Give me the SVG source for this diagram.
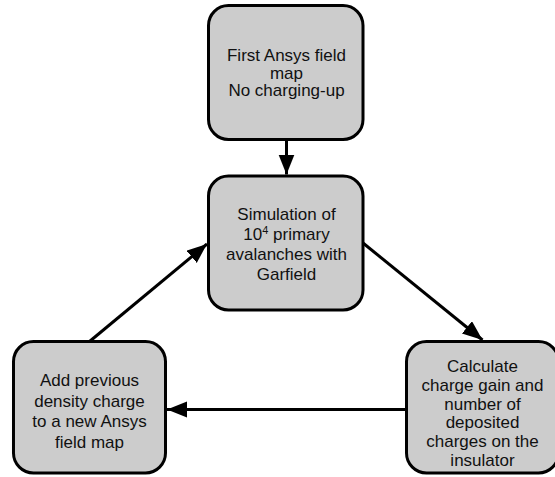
<svg xmlns="http://www.w3.org/2000/svg" width="555" height="477" viewBox="0 0 555 477">
<style>
.box{fill:#cccccc;stroke:#000;stroke-width:3}
.t{font-family:"Liberation Sans",Arial,sans-serif;font-size:17px;fill:#111;text-anchor:middle}
.c{stroke:#000;stroke-width:3;fill:none}
</style>
<defs>
<marker id="ah" markerUnits="userSpaceOnUse" markerWidth="22" markerHeight="18" refX="20" refY="8" orient="auto">
<path d="M0,0 L20,8 L0,16 z" fill="#000"/>
</marker>
</defs>
<rect width="555" height="477" fill="#fff"/>
<g id="connectors">
<line class="c" x1="286.5" y1="141" x2="286.5" y2="174.5" marker-end="url(#ah)"/>
<line class="c" x1="363" y1="243" x2="482.5" y2="340" marker-end="url(#ah)"/>
<line class="c" x1="406.5" y1="409.5" x2="167" y2="409.5" marker-end="url(#ah)"/>
<line class="c" x1="89.5" y1="341.5" x2="207" y2="244" marker-end="url(#ah)"/>
</g>
<g id="node-first">
<rect class="box" x="208.5" y="5.5" width="154.5" height="134" rx="20"/>
<text class="t" x="286.5" y="61">First Ansys field</text>
<text class="t" x="286.5" y="78.5">map</text>
<text class="t" x="286.5" y="96">No charging-up</text>
</g>
<g id="node-sim">
<rect class="box" x="208.5" y="176" width="154.5" height="134" rx="20"/>
<text class="t" x="286.5" y="220">Simulation of</text>
<text class="t" x="286.5" y="240">10<tspan font-size="11" dy="-6">4</tspan><tspan dy="6"> primary</tspan></text>
<text class="t" x="286.5" y="260">avalanches with</text>
<text class="t" x="286.5" y="280">Garfield</text>
</g>
<g id="node-calc">
<rect class="box" x="406.5" y="341.5" width="152" height="131.5" rx="20"/>
<text class="t" x="482.5" y="372">Calculate</text>
<text class="t" x="482.5" y="390.8">charge gain and</text>
<text class="t" x="482.5" y="409.6">number of</text>
<text class="t" x="482.5" y="428.4">deposited</text>
<text class="t" x="482.5" y="447.2">charges on the</text>
<text class="t" x="482.5" y="466">insulator</text>
</g>
<g id="node-add">
<rect class="box" x="13.5" y="341.5" width="152" height="131.5" rx="20"/>
<text class="t" x="89.5" y="386">Add previous</text>
<text class="t" x="89.5" y="406.5">density charge</text>
<text class="t" x="89.5" y="427">to a new Ansys</text>
<text class="t" x="89.5" y="447.5">field map</text>
</g>
</svg>
